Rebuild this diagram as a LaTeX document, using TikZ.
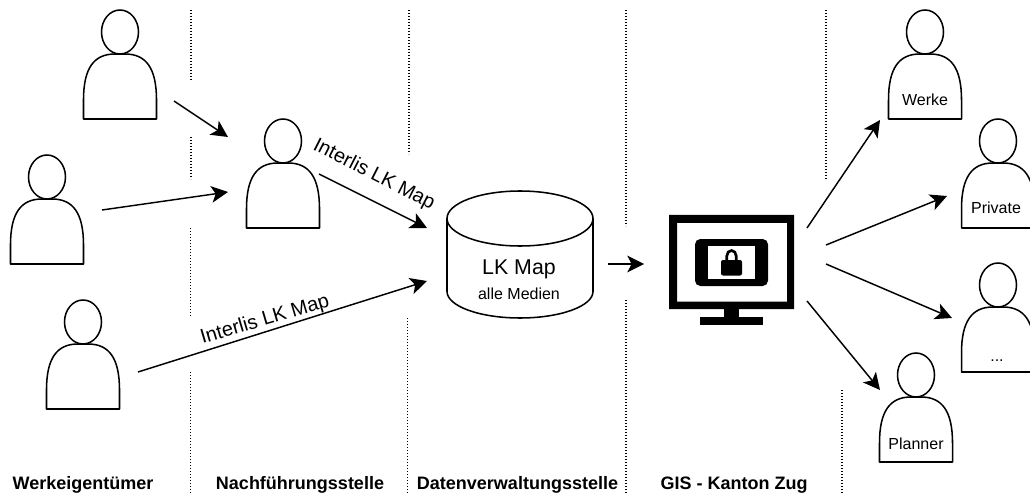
\documentclass[tikz,border=0pt]{standalone}
\usepackage{fontspec}
\setmainfont{Liberation Sans}
\usetikzlibrary{arrows.meta}
\tikzset{
  x=0.75pt,y=-0.75pt,
  outline/.style={line width=1.15pt,line join=round},
  conn/.style={line width=1.1pt,-{Stealth[length=12.5pt,width=12.5pt,inset=3.2pt]}},
  sep/.style={line width=1.25pt,dash pattern=on 1.1pt off 1.15pt},
  head/.style={font=\fontsize{13.5}{16}\selectfont\bfseries,anchor=base,inner sep=0pt},
  small/.style={font=\fontsize{12}{14}\selectfont,anchor=base,inner sep=0pt},
  flow/.style={font=\fontsize{15}{18}\selectfont,inner sep=0pt},
  slot/.style={minimum width=54.75pt,minimum height=81.75pt,inner sep=0pt,anchor=north},
}
\newcommand{\personfig}[3]{%
  \node[slot] (#1) at (#2,#3) {};
  \begin{scope}[shift={(#2,#3)}]
    \draw[outline] (0,22) ellipse [x radius=18.5,y radius=22];
    \draw[outline] (-36.5,109) -- (-36.5,90) .. controls (-36.5,58) and (-26,44) .. (-5,44)
      -- (5,44) .. controls (26,44) and (36.5,58) .. (36.5,90) -- (36.5,109) -- cycle;
  \end{scope}}
\begin{document}
\begin{tikzpicture}
\useasboundingbox (0,0) rectangle (1030,495);
% separators
\draw[sep] (191,10) -- (191,81);
\draw[sep] (191,137) -- (191,179);
\draw[sep] (190.5,228) -- (190.5,316);
\draw[sep] (190.5,372) -- (190.5,495);
\draw[sep] (409,10) -- (409,154);
\draw[sep] (407.5,318) -- (407.5,495);
\draw[sep] (626,10) -- (626,226);
\draw[sep] (626,300) -- (626,495);
\draw[sep] (826,10) -- (826,179);
\draw[sep] (842,390) -- (842,495);
% people
\personfig{ownerA}{120}{10}
\personfig{ownerB}{47}{155}
\personfig{ownerC}{83}{300}
\personfig{track}{283}{119}
\personfig{werke}{925}{10}
\personfig{private}{998}{119}
\personfig{other}{998}{263}
\personfig{planner}{916}{353}
\node[small] (werkeL) at (925,106) {Werke};
\node[small] (privateL) at (996,214) {Private};
\node[small] (otherL) at (997,361) {...};
\node[small] (plannerL) at (916,449.5) {Planner};
% database
\node[minimum width=109.5pt,minimum height=95pt,inner sep=0pt] (db) at (520,254.5) {};
\draw[outline] (447,218.5) arc [start angle=180,end angle=0,x radius=73,y radius=27.5]
  -- (593,291.5) arc [start angle=0,end angle=180,x radius=73,y radius=26.5] -- cycle;
\draw[outline] (447,218.5) arc [start angle=180,end angle=360,x radius=73,y radius=27.5];
\node[font=\fontsize{16}{18}\selectfont,anchor=base,inner sep=0pt] (dbT) at (519,274) {LK Map};
\node[small] (dbS) at (519,299) {alle Medien};
% monitor
\node[minimum width=93pt,minimum height=82.5pt,inner sep=0pt] (gis) at (731.5,270) {};
\fill[black,even odd rule] (669,215) rectangle (794,309) (677,223) rectangle (787,301.5);
\fill[black] (724,309) rectangle (739,317);
\fill[black] (700,317) rectangle (763,325);
\fill[black,rounded corners=4pt] (695,239) rectangle (768,286);
\fill[white] (708,246) rectangle (755,279);
\fill[black,rounded corners=1.5pt] (721,260) rectangle (742,275.5);
\draw[black,line width=2pt] (726.8,261) -- (726.8,256) arc [start angle=180,end angle=360,x radius=4.7,y radius=5.5] -- (736.2,261);
% end points
\coordinate (a1s) at (174,101);
\coordinate (a1e) at (228,137);
\coordinate (a2s) at (102,210);
\coordinate (a2e) at (228,192);
\coordinate (a3s) at (319,174);
\coordinate (a3e) at (427,228);
\coordinate (a4s) at (138,372);
\coordinate (a4e) at (427,281);
\coordinate (a5s) at (608,264);
\coordinate (a5e) at (644,264);
\coordinate (f1s) at (807,228);
\coordinate (f1e) at (880,120);
\coordinate (f2s) at (826,245);
\coordinate (f2e) at (947,196);
\coordinate (f3s) at (826,264);
\coordinate (f3e) at (952,318);
\coordinate (f4s) at (807,301);
\coordinate (f4e) at (880,390);
\draw[conn] (a1s) -- (a1e);
\draw[conn] (a2s) -- (a2e);
\draw[conn] (a3s) -- (a3e);
\draw[conn] (a4s) -- (a4e);
\draw[conn] (a5s) -- (a5e);
\draw[conn] (f1s) -- (f1e);
\draw[conn] (f2s) -- (f2e);
\draw[conn] (f3s) -- (f3e);
\draw[conn] (f4s) -- (f4e);
% labels
\node[flow,rotate=-27] (lblA) at (374,175) {Interlis LK Map};
\node[flow,rotate=16.5] (lblB) at (265,320) {Interlis LK Map};
\node[head] (h1) at (83,489.5) {Werkeigentümer};
\node[head] (h2) at (300,489.5) {Nachführungsstelle};
\node[head] (h3) at (517.5,489.5) {Datenverwaltungsstelle};
\node[head] (h4) at (734,489.5) {GIS - Kanton Zug};
\end{tikzpicture}
\end{document}
